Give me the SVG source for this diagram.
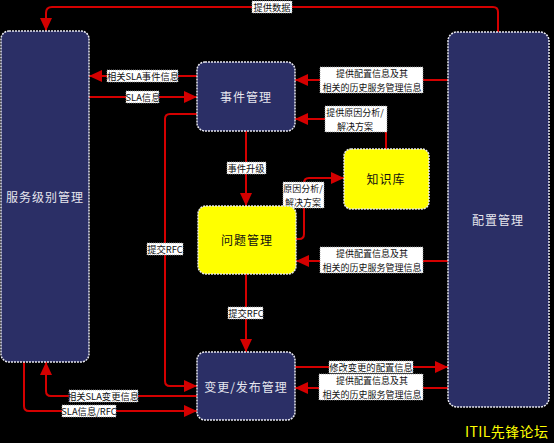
<svg xmlns="http://www.w3.org/2000/svg" width="554" height="443" viewBox="0 0 554 443">
<defs>
<marker id="ah" markerUnits="userSpaceOnUse" markerWidth="14" markerHeight="12" refX="13" refY="6" orient="auto">
<path d="M0,0 L13,6 L0,12 z" fill="#d40000"/>
</marker>
<style>
.navy{fill:#2b2f66;stroke:#e8e8f0;stroke-width:1.5;stroke-dasharray:2 1}
.yel{fill:#ffff00;stroke:#e8e8e8;stroke-width:1.5;stroke-dasharray:2 1}
.nt{font-family:"Noto Sans CJK SC","Liberation Sans",sans-serif;font-size:12px;letter-spacing:1px;text-anchor:middle;dominant-baseline:central}
.nw{fill:#e6e6ee}
.nb{fill:#111}
.c{fill:none;stroke:#d40000;stroke-width:2;marker-end:url(#ah)}
.lb{fill:#ffffff;stroke:#999;stroke-width:0.8;stroke-dasharray:1 1}
.lt{font-family:"Noto Sans CJK SC","Liberation Sans",sans-serif;font-size:9.3px;fill:#111;text-anchor:middle;dominant-baseline:central}
.l2{font-size:9px}
.wm{font-family:"Noto Sans CJK SC","Liberation Sans",sans-serif;font-size:14px;fill:#ffff00}
</style>
</defs>
<rect width="554" height="443" fill="#000"/>

<g id="connectors">
<path class="c" d="M498,32 V12 Q498,7 493,7 H52 Q46,7 46,13 V31"/>
<path class="c" d="M197,76 H89"/>
<path class="c" d="M89,97 H197"/>
<path class="c" d="M197,114 H170 Q165,114 165,119 V381 Q165,386 170,386 H197"/>
<path class="c" d="M246,131 V206"/>
<path class="c" d="M296,239 H299 Q304,239 304,234 V183 Q304,178 309,178 H344"/>
<path class="c" d="M386,149 V124 Q386,119 381,119 H295"/>
<path class="c" d="M448,80 H295"/>
<path class="c" d="M448,261 H296"/>
<path class="c" d="M295,367 H448"/>
<path class="c" d="M448,388 H295"/>
<path class="c" d="M197,396 H51 Q46,396 46,391 V362"/>
<path class="c" d="M24,362 V406 Q24,411 29,411 H197"/>
<path class="c" d="M246,274 V352"/>

<g id="labels">
<rect class="lb" x="252" y="1" width="40" height="12"/><text class="lt" x="272" y="7">提供数据</text>
<rect class="lb" x="107" y="70" width="71" height="12"/><text class="lt" x="143" y="76">相关SLA事件信息</text>
<rect class="lb" x="126" y="91" width="33" height="12"/><text class="lt" x="143" y="97">SLA信息</text>
<rect class="lb" x="147" y="243" width="36" height="12"/><text class="lt" x="165" y="249">提交RFC</text>
<rect class="lb" x="227" y="162" width="39" height="12"/><text class="lt" x="246" y="168">事件升级</text>
<rect class="lb" x="283" y="182" width="41" height="26"/><text class="lt l2" x="303" y="188.5">原因分析/<tspan x="303" dy="13">解决方案</tspan></text>
<rect class="lb" x="325" y="106" width="62" height="26"/><text class="lt l2" x="355" y="112.5">提供原因分析/<tspan x="355" dy="13">解决方案</tspan></text>
<rect class="lb" x="320" y="67" width="103" height="26"/><text class="lt l2" x="372" y="73.5">提供配置信息及其<tspan x="372" dy="13">相关的历史服务管理信息</tspan></text>
<rect class="lb" x="320" y="247" width="103" height="26"/><text class="lt l2" x="372" y="253.5">提供配置信息及其<tspan x="372" dy="13">相关的历史服务管理信息</tspan></text>
<rect class="lb" x="329" y="361" width="84" height="12"/><text class="lt" x="371" y="367">修改变更的配置信息</text>
<rect class="lb" x="319" y="374" width="104" height="26"/><text class="lt l2" x="372" y="380.5">提供配置信息及其<tspan x="372" dy="13">相关的历史服务管理信息</tspan></text>
<rect class="lb" x="69" y="390" width="69" height="12"/><text class="lt" x="103" y="396">相关SLA变更信息</text>
<rect class="lb" x="62" y="405" width="54" height="12"/><text class="lt" x="89" y="411">SLA信息/RFC</text>
<rect class="lb" x="228" y="307" width="35" height="12"/><text class="lt" x="246" y="313">提交RFC</text>
</g>
</g>

<g id="slm"><rect class="navy" x="1" y="31" width="88" height="331" rx="8"/><text class="nt nw" x="45" y="196">服务级别管理</text></g>
<g id="incident"><rect class="navy" x="197" y="62" width="98" height="69" rx="8"/><text class="nt nw" x="246" y="96">事件管理</text></g>
<g id="config"><rect class="navy" x="448" y="32" width="101" height="375" rx="9"/><text class="nt nw" x="498" y="219">配置管理</text></g>
<g id="kb"><rect class="yel" x="344" y="149" width="85" height="60" rx="7"/><text class="nt nb" x="386" y="178">知识库</text></g>
<g id="problem"><rect class="yel" x="198" y="206" width="98" height="68" rx="8"/><text class="nt nb" x="247" y="239">问题管理</text></g>
<g id="change"><rect class="navy" x="197" y="352" width="98" height="68" rx="8"/><text class="nt nw" x="246" y="386">变更/发布管理</text></g>

<text class="wm" x="465" y="437" textLength="83" lengthAdjust="spacing">ITIL先锋论坛</text>
</svg>
